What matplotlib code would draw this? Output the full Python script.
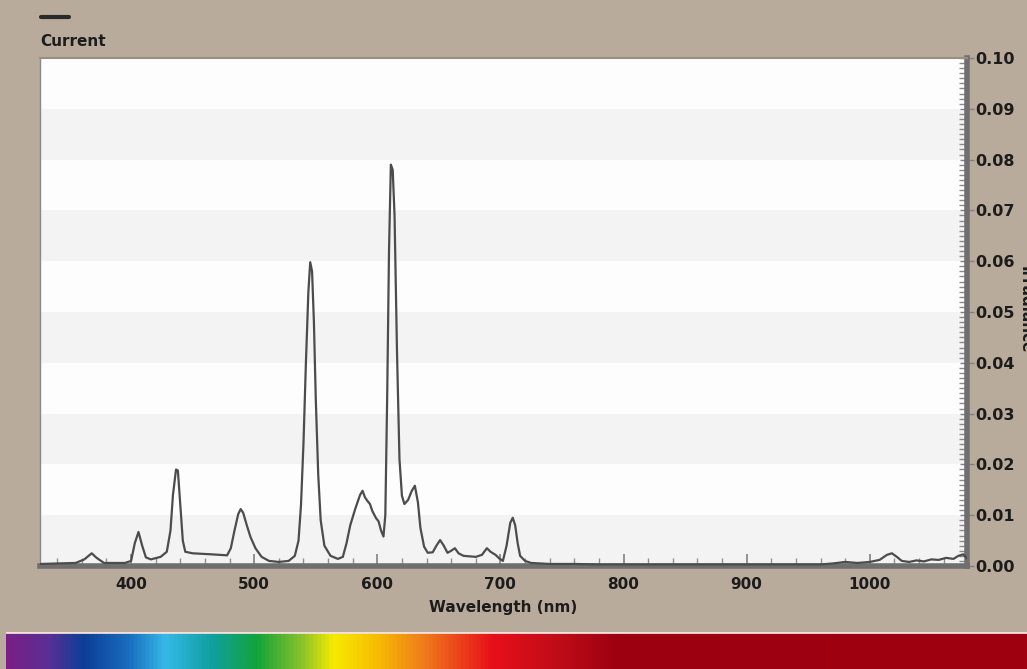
import numpy as np
import matplotlib.pyplot as plt
from matplotlib.colors import LinearSegmentedColormap
from matplotlib.ticker import MultipleLocator, FormatStrFormatter

# spectrum (wavelength in nm, irradiance)
wavelength = [326, 340, 355, 362, 368, 372, 378, 395, 400, 403, 406, 409, 412, 416,
              424, 429, 432, 434, 436.5, 438, 440, 442, 444, 450, 465, 478, 481, 484,
              487, 489, 491, 494, 497, 501, 506, 512, 520, 528, 533, 536, 538, 540,
              542, 544, 545.5, 547, 548.5, 550, 552, 554, 557, 562, 568, 572, 575,
              578, 582, 586, 588, 590, 592, 594, 596, 599, 601, 603, 605, 606.5, 608,
              609.5, 611, 612.5, 614, 616, 618, 620, 622, 625, 628, 630.5, 633, 635,
              638, 641, 645, 648, 651, 654, 657, 660, 663, 666, 670, 680, 685, 689,
              692, 696, 699, 702, 705, 708, 710, 712, 714, 716, 720, 725, 740, 760,
              780, 820, 860, 900, 940, 960, 970, 980, 990, 1000, 1008, 1014, 1018,
              1022, 1026, 1032, 1038, 1044, 1050, 1056, 1062, 1068, 1072, 1076, 1079]
irradiance = [0.0004, 0.0005, 0.0006, 0.0013, 0.0025, 0.0016, 0.0006, 0.0006, 0.0010,
              0.0045, 0.0067, 0.0040, 0.0017, 0.0013, 0.0018, 0.0028, 0.0070, 0.0140,
              0.0190, 0.0188, 0.0120, 0.0050, 0.0028, 0.0025, 0.0023, 0.0021, 0.0035,
              0.0070, 0.0102, 0.0112, 0.0105, 0.0080, 0.0057, 0.0035, 0.0018, 0.0010,
              0.0008, 0.0010, 0.0020, 0.0050, 0.0120, 0.0240, 0.0400, 0.0540, 0.0598,
              0.0580, 0.0480, 0.0330, 0.0180, 0.0090, 0.0040, 0.0020, 0.0014, 0.0018,
              0.0045, 0.0080, 0.0112, 0.0140, 0.0148, 0.0135, 0.0128, 0.0122, 0.0108,
              0.0094, 0.0088, 0.0070, 0.0058, 0.0100, 0.0330, 0.0620, 0.0790, 0.0780,
              0.0690, 0.0420, 0.0210, 0.0138, 0.0122, 0.0130, 0.0148, 0.0158, 0.0125,
              0.0075, 0.0038, 0.0026, 0.0027, 0.0040, 0.0051, 0.0040, 0.0026, 0.0030,
              0.0035, 0.0025, 0.0020, 0.0018, 0.0022, 0.0035, 0.0028, 0.0022, 0.0015,
              0.0010, 0.0040, 0.0085, 0.0095, 0.0080, 0.0045, 0.0020, 0.0010, 0.0006,
              0.0004, 0.0004, 0.0003, 0.0003, 0.0003, 0.0003, 0.0003, 0.0003, 0.0005,
              0.0008, 0.0006, 0.0008, 0.0012, 0.0022, 0.0025, 0.0018, 0.0010, 0.0008,
              0.0011, 0.0009, 0.0013, 0.0012, 0.0016, 0.0014, 0.0020, 0.0023, 0.0015]

bg = '#b8ab9b'
txt = '#1c1c1c'
plt.rcParams['font.family'] = ['DejaVu Sans']
plt.rcParams['font.weight'] = 'bold'

W, H = 1027, 669
fig = plt.figure(figsize=(W / 100, H / 100), dpi=100, facecolor=bg)

# main plot area
ax = fig.add_axes([40 / W, 1 - 566 / H, 927 / W, 508 / H])
ax.set_facecolor('#fdfdfd')
ax.set_xlim(326, 1079)
ax.set_ylim(0, 0.10)

# light horizontal bands
for lo in np.arange(0, 0.10, 0.02):
    ax.axhspan(lo, lo + 0.01, color='#f3f3f3', lw=0, zorder=0)

ax.plot(wavelength, irradiance, color='#4c4c4c', lw=1.6, zorder=3)

ax.yaxis.tick_right()
ax.yaxis.set_major_locator(MultipleLocator(0.01))
ax.yaxis.set_minor_locator(MultipleLocator(0.001))
ax.yaxis.set_major_formatter(FormatStrFormatter('%.2f'))
ax.xaxis.set_major_locator(MultipleLocator(100))
ax.xaxis.set_minor_locator(MultipleLocator(20))

ax.tick_params(axis='x', which='major', direction='in', length=9, width=1.2,
               color='#808080', labelsize=11, labelcolor=txt, pad=8)
ax.tick_params(axis='x', which='minor', direction='in', length=6, width=1.0,
               color='#909090')
ax.tick_params(axis='y', which='major', direction='inout', length=10, width=1.0,
               color='#808080', labelsize=11.5, labelcolor=txt, pad=1)
ax.tick_params(axis='y', which='minor', direction='in', length=6, width=1.0,
               color='#8a8a8a')
for lab in ax.get_xticklabels() + ax.get_yticklabels():
    lab.set_fontweight('bold')

for side in ('bottom', 'right'):
    ax.spines[side].set_color('#6f6f6f')
    ax.spines[side].set_linewidth(4)
ax.spines['left'].set_color('#8a8a8a')
ax.spines['left'].set_linewidth(1)
ax.spines['top'].set_color('#9a9080')
ax.spines['top'].set_linewidth(1.5)

ax.set_xlabel('Wavelength (nm)', fontsize=11, fontweight='bold', color=txt, labelpad=6)

# legend at top left
fig.add_artist(plt.Line2D([41 / W, 69 / W], [1 - 17 / H, 1 - 17 / H], color='#2a2a2a',
                          lw=3, solid_capstyle='round'))
fig.text(40 / W, 1 - 42 / H, 'Current', fontsize=11, fontweight='bold', color=txt,
         va='center', ha='left')

# axis title mostly cut off at the right edge, as in the source
fig.text(1018 / W, 1 - 310 / H, 'Irradiance', fontsize=11, fontweight='bold', color=txt,
         rotation=270, va='center', ha='left')

# colour spectrum strip along the bottom
stops = [(0.0, '#7a1f86'), (0.04, '#5a2f95'), (0.075, '#0c3e98'), (0.12, '#1a6fc0'),
         (0.155, '#35b9e8'), (0.20, '#10a0a0'), (0.245, '#13a33a'), (0.29, '#8cc32a'),
         (0.32, '#f7ea00'), (0.36, '#f8c000'), (0.41, '#ef7a1c'), (0.475, '#e8101a'),
         (0.54, '#c00c18'), (0.60, '#9c0010'), (1.0, '#a00010')]
cmap = LinearSegmentedColormap.from_list('spec', stops)
sax = fig.add_axes([6 / W, 0, 1 - 6 / W, 37 / H])
sax.imshow(np.linspace(0, 1, 512)[None, :], aspect='auto', cmap=cmap,
           extent=[0, 1, 0, 1])
sax.axhline(1, color='#f2e0dc', lw=2)
sax.set_axis_off()

fig.savefig('out.png', dpi=100, facecolor=bg)
